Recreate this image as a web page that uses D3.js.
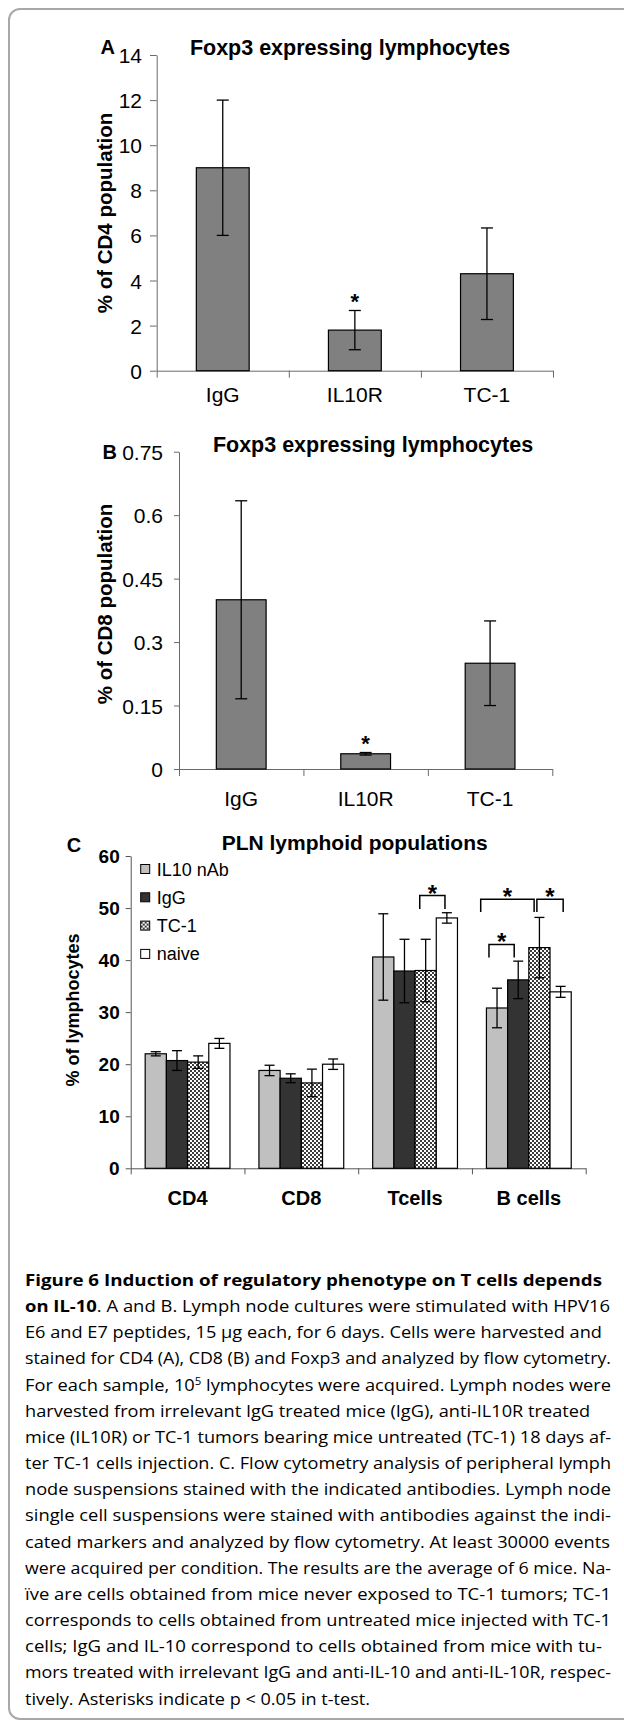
<!DOCTYPE html>
<html>
<head>
<meta charset="utf-8">
<script src="https://cdn.jsdelivr.net/npm/d3@7"></script>
<style>
body{margin:0;background:#fff;}
svg{display:block;}
text{font-family:"Liberation Sans",Arial,Helvetica,sans-serif;fill:#000;}
.narrow{font-family:"Liberation Sans Narrow","Arial Narrow",sans-serif;}
.caption text{font-family:"Open Sans","Noto Sans",sans-serif;}
</style>
</head>
<body>
<svg id="fig" width="624" height="1733"></svg>
<script>
'use strict';

// ---- panel A: Foxp3+ of CD4
const groupsAB = ["IgG", "IL10R", "TC-1"];
const cd4Means = [9.0, 1.8, 4.3];
const cd4Errs = [3.0, 0.87, 2.03];
const cd4Ticks = [0, 2, 4, 6, 8, 10, 12, 14];
const sigAB = [false, true, false];

// ---- panel B: Foxp3+ of CD8
const cd8Means = [0.40, 0.036, 0.25];
const cd8Errs = [0.234, 0.003, 0.10];
const cd8Ticks = [0, 0.15, 0.3, 0.45, 0.6, 0.75];

// ---- panel C: PLN lymphoid populations
const popCats = ["CD4", "CD8", "Tcells", "B cells"];
const popSeries = ["IL10 nAb", "IgG", "TC-1", "naive"];
const il10Means = [22.0, 18.8, 40.6, 30.8];
const il10Errs = [0.4, 1.0, 8.3, 3.8];
const iggMeans = [20.7, 17.3, 37.9, 36.2];
const iggErrs = [1.9, 0.85, 6.1, 3.6];
const tc1Means = [20.4, 16.4, 38.0, 42.4];
const tc1Errs = [1.2, 2.65, 6.0, 5.8];
const naiveMeans = [24.0, 20.0, 48.1, 33.9];
const naiveErrs = [0.95, 1.0, 1.0, 1.05];
const popTicks = [0, 10, 20, 30, 40, 50, 60];
// significance brackets (ends in bar-slot units, height in % units)
const sigBrackets = [
	{cat: "Tcells", from: 2.22, to: 3.41, y: 52.4, drop: 2.6},
	{cat: "B cells", from: 0.12, to: 1.31, y: 43.0, drop: 2.5},
	{cat: "B cells", from: -0.27, to: 2.25, y: 51.7, drop: 2.45},
	{cat: "B cells", from: 2.38, to: 3.62, y: 51.7, drop: 2.45}
];

const popFills = ["#c0c0c0", "#333333", "url(#checker)", "#ffffff"];

// ---- caption, line by line as in the figure
const capLines = [
	[["Figure 6 Induction of regulatory phenotype on T cells depends", "b"]],
	[["on IL-10", "b"], [". A and B. Lymph node cultures were stimulated with HPV16", ""]],
	[["E6 and E7 peptides, 15 µg each, for 6 days. Cells were harvested and", ""]],
	[["stained for CD4 (A), CD8 (B) and Foxp3 and analyzed by flow cytometry.", ""]],
	[["For each sample, 10", ""], ["5", "sup"], [" lymphocytes were acquired. Lymph nodes were", ""]],
	[["harvested from irrelevant IgG treated mice (IgG), anti-IL10R treated", ""]],
	[["mice (IL10R) or TC-1 tumors bearing mice untreated (TC-1) 18 days af-", ""]],
	[["ter TC-1 cells injection. C. Flow cytometry analysis of peripheral lymph", ""]],
	[["node suspensions stained with the indicated antibodies. Lymph node", ""]],
	[["single cell suspensions were stained with antibodies against the indi-", ""]],
	[["cated markers and analyzed by flow cytometry. At least 30000 events", ""]],
	[["were acquired per condition. The results are the average of 6 mice. Na-", ""]],
	[["ïve are cells obtained from mice never exposed to TC-1 tumors; TC-1", ""]],
	[["corresponds to cells obtained from untreated mice injected with TC-1", ""]],
	[["cells; IgG and IL-10 correspond to cells obtained from mice with tu-", ""]],
	[["mors treated with irrelevant IgG and anti-IL-10 and anti-IL-10R, respec-", ""]],
	[["tively. Asterisks indicate p < 0.05 in t-test.", ""]]
];
const capWidths = [577, 585, 577, 586, 586, 565, 586, 586, 586, 586, 585, 586, 586, 586, 577, 586, 345];

const svg = d3.select("#fig");

// pattern for TC-1 bars
const defs = svg.append("defs");
const pat = defs.append("pattern").attr("id", "checker")
	.attr("width", 4).attr("height", 4).attr("patternUnits", "userSpaceOnUse");
pat.append("rect").attr("width", 4).attr("height", 4).attr("fill", "#fff");
pat.append("rect").attr("width", 2).attr("height", 2).attr("fill", "#3c3c3c");
pat.append("rect").attr("x", 2).attr("y", 2).attr("width", 2).attr("height", 2).attr("fill", "#3c3c3c");

// frame of the figure box
svg.append("rect")
	.attr("x", 9).attr("y", 9).attr("width", 700).attr("height", 1710)
	.attr("rx", 11).attr("fill", "none").attr("stroke", "#a8a8a8").attr("stroke-width", 2);

function simple_bars(a){
	const g = svg.append("g");
	const y = d3.scaleLinear().domain([0, a.ymax]).range([a.bottom, a.top]);
	const x = d3.scaleBand().domain(a.cats).range([a.left, a.right])
		.paddingInner(0.6).paddingOuter(0.3);
	const xb = d3.scaleLinear().domain([0, a.cats.length]).range([a.left, a.right]);

	const yAxis = g.append("g").attr("transform", `translate(${a.left},0)`)
		.call(d3.axisLeft(y).tickValues(a.ticks).tickFormat(d => String(d))
			.tickSize(a.tickSize).tickSizeOuter(0).tickPadding(a.tickPad));
	yAxis.selectAll("text").attr("class", "narrow").attr("font-size", 21).attr("dy", "0.36em");

	g.append("g").attr("transform", `translate(0,${a.bottom})`)
		.call(d3.axisBottom(xb).tickValues(d3.range(a.cats.length + 1)).tickFormat("")
			.tickSize(7).tickSizeOuter(0));
	g.selectAll(".domain, .tick line").attr("stroke", "#6a6a6a");

	const rows = a.cats.map((c, i) => ({c: c, v: a.means[i], e: a.errs[i], s: a.sig[i]}));

	g.append("g").selectAll("rect").data(rows).join("rect")
		.attr("x", d => x(d.c)).attr("width", x.bandwidth())
		.attr("y", d => y(d.v)).attr("height", d => a.bottom - y(d.v))
		.attr("fill", "#808080").attr("stroke", "#000").attr("stroke-width", 1.2);

	const eb = g.append("g").attr("stroke", "#000").attr("stroke-width", 1.3);
	rows.forEach(d => {
		const cx = x(d.c) + x.bandwidth() / 2;
		eb.append("line").attr("x1", cx).attr("x2", cx).attr("y1", y(d.v + d.e)).attr("y2", y(d.v - d.e));
		[d.v + d.e, d.v - d.e].forEach(v => {
			eb.append("line").attr("x1", cx - 6).attr("x2", cx + 6).attr("y1", y(v)).attr("y2", y(v));
		});
	});

	g.append("g").selectAll("text").data(rows.filter(d => d.s)).join("text")
		.attr("x", d => x(d.c) + x.bandwidth() / 2).attr("y", d => y(d.v + d.e) - 1.5)
		.attr("text-anchor", "middle").attr("font-size", 22).attr("font-weight", "bold").text("*");

	g.append("g").selectAll("text").data(a.cats).join("text")
		.attr("class", "narrow")
		.attr("x", d => x(d) + x.bandwidth() / 2).attr("y", a.bottom + a.labelDy)
		.attr("text-anchor", "middle").attr("font-size", 21).text(d => d);

	g.append("text").attr("x", a.titleX).attr("y", a.titleY).attr("text-anchor", "middle")
		.attr("font-size", 21.5).attr("font-weight", "bold").text(a.title);
	g.append("text").attr("x", a.letterX).attr("y", a.letterY)
		.attr("font-size", 20).attr("font-weight", "bold").text(a.letter);
	g.append("text").attr("transform", `translate(${a.ylabX},${a.ylabY}) rotate(-90)`)
		.attr("text-anchor", "middle").attr("font-size", 20.5).attr("font-weight", "bold").text(a.ylabel);
}

simple_bars({cats: groupsAB, means: cd4Means, errs: cd4Errs, sig: sigAB, ticks: cd4Ticks, ymax: 14,
	left: 156.7, right: 553, top: 55, bottom: 370.7, tickSize: 6.7, tickPad: 8, labelDy: 31,
	title: "Foxp3 expressing lymphocytes", titleX: 350, titleY: 55,
	letter: "A", letterX: 100.5, letterY: 54,
	ylabel: "% of CD4 population", ylabX: 112, ylabY: 213});

simple_bars({cats: groupsAB, means: cd8Means, errs: cd8Errs, sig: sigAB, ticks: cd8Ticks, ymax: 0.75,
	left: 179, right: 552.3, top: 451.7, bottom: 769, tickSize: 5, tickPad: 11, labelDy: 37,
	title: "Foxp3 expressing lymphocytes", titleX: 373, titleY: 452,
	letter: "B", letterX: 102.5, letterY: 458.5,
	ylabel: "% of CD8 population", ylabX: 112, ylabY: 604});

// ---- panel C
(function(){
	const left = 130.7, right = 585.7, top = 856, bottom = 1168.3;
	const g = svg.append("g");
	const y = d3.scaleLinear().domain([0, 60]).range([bottom, top]);
	const x0 = d3.scaleBand().domain(popCats).range([left, right]);
	const x1 = d3.scaleBand().domain(popSeries).range([0, x0.bandwidth()]).paddingOuter(0.683);
	const xb = d3.scaleLinear().domain([0, popCats.length]).range([left, right]);
	const means = [il10Means, iggMeans, tc1Means, naiveMeans];
	const errs = [il10Errs, iggErrs, tc1Errs, naiveErrs];

	const yAxis = g.append("g").attr("transform", `translate(${left},0)`)
		.call(d3.axisLeft(y).tickValues(popTicks).tickSize(5).tickSizeOuter(0).tickPadding(6));
	yAxis.selectAll("text").attr("font-size", 19).attr("font-weight", "bold");
	g.append("g").attr("transform", `translate(0,${bottom})`)
		.call(d3.axisBottom(xb).tickValues(d3.range(popCats.length + 1)).tickFormat("")
			.tickSize(6).tickSizeOuter(0));
	g.selectAll(".domain, .tick line").attr("stroke", "#555");

	const rows = [];
	popSeries.forEach((s, si) => popCats.forEach((c, ci) => {
		rows.push({s: s, si: si, c: c, v: means[si][ci], e: errs[si][ci]});
	}));

	g.append("g").selectAll("rect").data(rows).join("rect")
		.attr("x", d => x0(d.c) + x1(d.s)).attr("width", x1.bandwidth())
		.attr("y", d => y(d.v)).attr("height", d => bottom - y(d.v))
		.attr("fill", d => popFills[d.si]).attr("stroke", "#000").attr("stroke-width", 1.2);

	const eb = g.append("g").attr("stroke", "#000").attr("stroke-width", 1.3);
	rows.forEach(d => {
		const cx = x0(d.c) + x1(d.s) + x1.bandwidth() / 2;
		eb.append("line").attr("x1", cx).attr("x2", cx).attr("y1", y(d.v + d.e)).attr("y2", y(d.v - d.e));
		[d.v + d.e, d.v - d.e].forEach(v => {
			eb.append("line").attr("x1", cx - 5).attr("x2", cx + 5).attr("y1", y(v)).attr("y2", y(v));
		});
	});

	// brackets
	const slot = (cat, u) => x0(cat) + x1(popSeries[0]) + u * x1.step();
	const br = g.append("g");
	sigBrackets.forEach(b => {
		const xa = slot(b.cat, b.from), xz = slot(b.cat, b.to);
		br.append("path")
			.attr("d", `M${xa},${y(b.y - b.drop)}V${y(b.y)}H${xz}V${y(b.y - b.drop)}`)
			.attr("fill", "none").attr("stroke", "#000").attr("stroke-width", 1.5);
		br.append("text").attr("x", (xa + xz) / 2).attr("y", y(b.y) + 6)
			.attr("text-anchor", "middle").attr("font-size", 24).attr("font-weight", "bold").text("*");
	});

	g.append("g").selectAll("text").data(popCats).join("text")
		.attr("x", d => x0(d) + x0.bandwidth() / 2).attr("y", bottom + 36.7)
		.attr("text-anchor", "middle").attr("font-size", 20).attr("font-weight", "bold").text(d => d);

	// legend
	const lg = g.append("g").selectAll("g").data(popSeries).join("g")
		.attr("transform", (d, i) => `translate(140.7,${869 + i * 28.3})`);
	lg.append("rect").attr("x", 0).attr("y", -4.5).attr("width", 9).attr("height", 9)
		.attr("fill", (d, i) => popFills[i]).attr("stroke", "#000").attr("stroke-width", 1);
	lg.append("text").attr("x", 16).attr("y", 6.5).attr("font-size", 18).text(d => d);

	g.append("text").attr("x", 354.7).attr("y", 850).attr("text-anchor", "middle")
		.attr("font-size", 21).attr("font-weight", "bold").text("PLN lymphoid populations");
	g.append("text").attr("x", 66.7).attr("y", 852)
		.attr("font-size", 20).attr("font-weight", "bold").text("C");
	g.append("text").attr("transform", "translate(79,1010) rotate(-90)")
		.attr("text-anchor", "middle").attr("font-size", 18).attr("font-weight", "bold").text("% of lymphocytes");
})();

// ---- caption
const cap = svg.append("g").attr("class", "caption");
capLines.forEach((segs, i) => {
	const t = cap.append("text").attr("x", 25).attr("y", 1286 + i * 26.16)
		.attr("font-size", 16.8).attr("fill", "#1a1a1a")
		.attr("textLength", capWidths[i]).attr("lengthAdjust", "spacingAndGlyphs");
	let shifted = false;
	segs.forEach(s => {
		const ts = t.append("tspan").text(s[0]);
		if (s[1] === "b") ts.attr("font-weight", "bold");
		if (s[1] === "sup") { ts.attr("font-size", 10.5).attr("dy", -6); shifted = true; }
		else if (shifted) { ts.attr("dy", 6); shifted = false; }
	});
});
</script>
</body>
</html>
